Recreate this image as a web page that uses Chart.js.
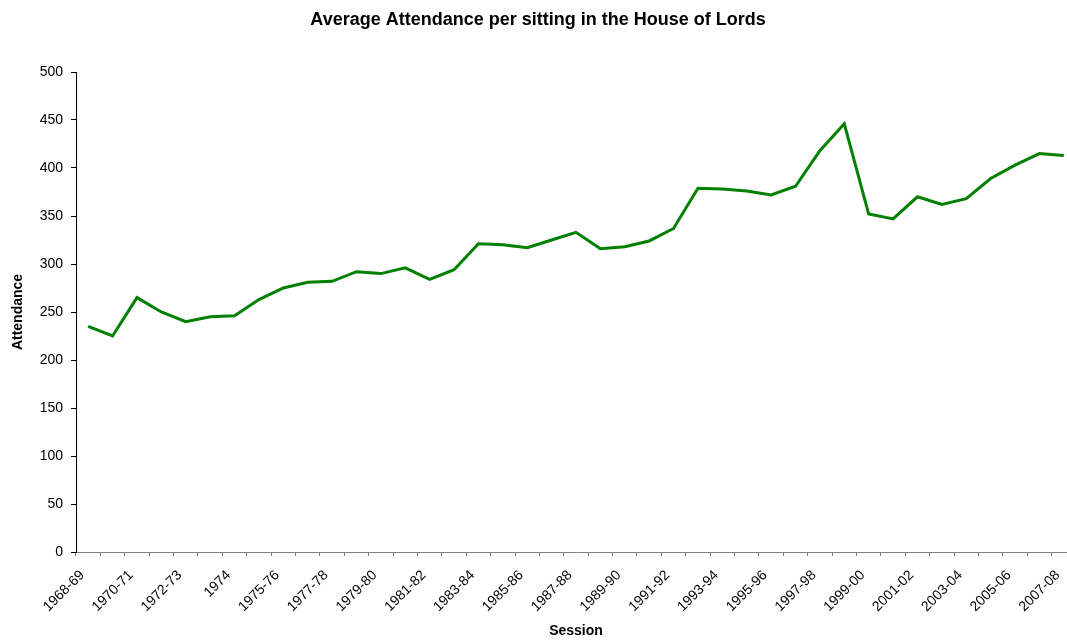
<!DOCTYPE html>
<html>
<head>
<meta charset="utf-8">
<script src="https://cdn.jsdelivr.net/npm/chart.js@4/dist/chart.umd.min.js"></script>
<style>
    html, body { margin: 0; padding: 0; background: #fff; overflow: hidden; }
    #wrap { width: 1080px; height: 644px; position: relative; }
</style>
</head>
<body>
<div id="wrap"><canvas id="chart"></canvas></div>
<script>
const sessions = [
    '1968-69', '1969-70', '1970-71', '1971-72', '1972-73', '1973-74', '1974',
    '1974-75', '1975-76', '1976-77', '1977-78', '1978-79', '1979-80', '1980-81',
    '1981-82', '1982-83', '1983-84', '1984-85', '1985-86', '1986-87', '1987-88',
    '1988-89', '1989-90', '1990-91', '1991-92', '1992-93', '1993-94', '1994-95',
    '1995-96', '1996-97', '1997-98', '1998-99', '1999-00', '2000-01', '2001-02',
    '2002-03', '2003-04', '2004-05', '2005-06', '2006-07', '2007-08',
];
const attendance = [
    235, 225, 265, 250, 240, 245, 246, 263, 275, 281, 282, 292, 290, 296,
    284, 294, 321, 320, 317, 325, 333, 316, 318, 324, 337, 379, 378, 376,
    372, 381, 418, 446, 352, 347, 370, 362, 368, 389, 403, 415, 413,
];
const yTicks = [0, 50, 100, 150, 200, 250, 300, 350, 400, 450, 500];

const FONT = "Arial, 'Liberation Sans', sans-serif";

new Chart(document.getElementById('chart'), {
    type: 'line',
    data: {
        labels: sessions,
        datasets: [
            {
                label: 'Attendance',
                data: attendance,
                borderColor: '#008000',
                borderWidth: 3,
                pointRadius: 0,
                tension: 0,
                fill: false,
            },
        ],
    },
    options: {
        responsive: true,
        maintainAspectRatio: false,
        animation: false,
        layout: { padding: { left: 0, right: 4, top: 0, bottom: 0 } },
        plugins: {
            legend: { display: false },
            tooltip: { enabled: false },
            title: {
                display: true,
                text: 'Average Attendance per sitting in the House of Lords',
                color: '#000',
                font: { family: FONT, size: 18, weight: 'bold' },
                padding: { top: 9, bottom: 41.4 },
            },
        },
        scales: {
            x: {
                offset: true,
                border: { color: '#808080', width: 1 },
                grid: {
                    offset: true,
                    drawOnChartArea: false,
                    drawTicks: true,
                    tickLength: 4,
                    color: '#808080',
                },
                ticks: {
                    autoSkip: false,
                    minRotation: 45,
                    maxRotation: 45,
                    color: '#000',
                    padding: 11,
                    labelOffset: -6,
                    font: { family: FONT, size: 14 },
                    callback: (val, i) => (i % 2 === 0 ? sessions[i] : ''),
                },
                title: {
                    display: true,
                    text: 'Session',
                    color: '#000',
                    font: { family: FONT, size: 14, weight: 'bold' },
                    padding: { top: 4, bottom: 4 },
                },
                afterFit: (scale) => {
                    scale.height = 92;
                    scale.paddingLeft = 0;
                    scale.paddingRight = 0;
                },
            },
            y: {
                min: 0,
                max: 500,
                border: { color: '#000', width: 1 },
                grid: {
                    drawOnChartArea: false,
                    drawTicks: true,
                    tickLength: 5,
                    color: '#000',
                },
                afterBuildTicks: (scale) => {
                    scale.ticks = yTicks.map((v) => ({ value: v }));
                },
                ticks: {
                    color: '#000',
                    padding: 8,
                    font: { family: FONT, size: 14 },
                },
                title: {
                    display: true,
                    text: 'Attendance',
                    color: '#000',
                    font: { family: FONT, size: 14, weight: 'bold' },
                    padding: { top: 10, bottom: 4 },
                },
                afterFit: (scale) => {
                    scale.width = 76;
                    scale.paddingTop = 0;
                    scale.paddingBottom = 0;
                },
            },
        },
    },
});
</script>
</body>
</html>
